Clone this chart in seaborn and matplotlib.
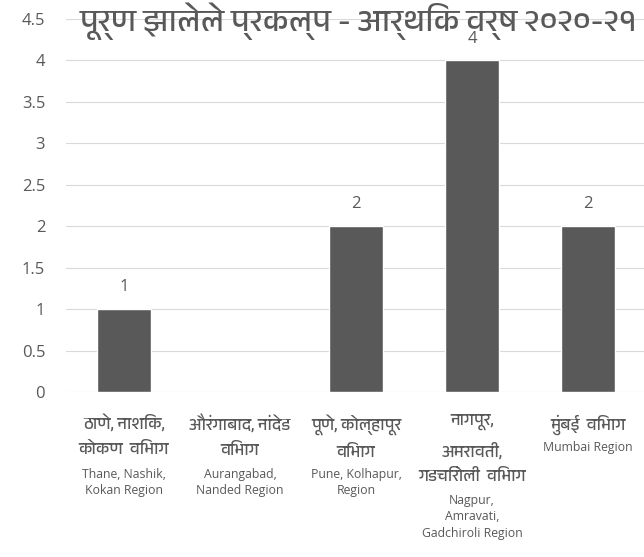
import numpy as np
import pandas as pd
import matplotlib
matplotlib.use('Agg')
import matplotlib.pyplot as plt
import seaborn as sns
from matplotlib import font_manager
from matplotlib.ft2font import FT2Font

# data
regions_mr = ['ठाणे, नाशिक,\nकोकण  विभाग',
              'औरंगाबाद, नांदेड\nविभाग',
              'पूणे, कोल्हापूर\nविभाग',
              'नागपूर,\nअमरावती,\nगडचिरोली  विभाग',
              'मुंबई  विभाग']
regions_en = ['Thane, Nashik,\nKokan Region',
              'Aurangabad,\nNanded Region',
              'Pune, Kolhapur,\nRegion',
              'Nagpur,\nAmravati,\nGadchiroli Region',
              'Mumbai Region']
projects = [1, 0, 2, 4, 2]
title = 'पूर्ण झालेले प्रकल्प - आर्थिक वर्ष २०२०-२१'


def find_family(ch):
    # installed font with the glyph, prefer a devanagari one
    found = []
    for f in font_manager.fontManager.ttflist:
        try:
            if ord(ch) in FT2Font(f.fname).get_charmap():
                found.append(f.name)
        except Exception:
            pass
    if not found:
        return None
    for name in found:
        if 'Devanagari' in name:
            return name
    return found[0]


sns.set_theme(style='white')
latin = 'Open Sans'
deva = find_family('क')
fams = [deva, latin, 'DejaVu Sans'] if deva else [latin, 'DejaVu Sans']
plt.rcParams['font.family'] = fams

grey = '#595959'
df = pd.DataFrame({'region': regions_mr, 'en': regions_en, 'n': projects})

fig = plt.figure(figsize=(6.44, 5.57), dpi=100)
ax = fig.add_axes([0.1025, 0.2962, 0.9006, 0.6697])
sns.barplot(data=df, x='region', y='n', color=grey, saturation=1, width=0.47, ax=ax)

ax.set_ylim(0, 4.5)
ax.set_xlim(-0.5, 4.5)
ax.set_yticks(np.arange(0, 4.51, 0.5))
ax.set_yticklabels(['0', '0.5', '1', '1.5', '2', '2.5', '3', '3.5', '4', '4.5'],
                   fontsize=12, color=grey, family=[latin, 'DejaVu Sans'])
ax.yaxis.grid(True, color='#d9d9d9', linewidth=0.8)
ax.set_axisbelow(True)
for s in ax.spines.values():
    s.set_visible(False)
ax.tick_params(axis='y', length=0, pad=15)
ax.tick_params(axis='x', length=0, pad=16)
ax.set_xlabel('')
ax.set_ylabel('')
ax.set_xticklabels(regions_mr, fontsize=12, color=grey, linespacing=1.8)

# english names under the marathi ones
for i, (mr, en) in enumerate(zip(regions_mr, regions_en)):
    nl = mr.count('\n') + 1
    ax.annotate(en, xy=(i, 0), xycoords=('data', 'axes fraction'),
                xytext=(0, -(16 + nl * 19.2)), textcoords='offset points',
                ha='center', va='top', fontsize=8.8, color=grey,
                linespacing=1.32, family=[latin, 'DejaVu Sans'])

# value labels
for p, v in zip(ax.patches, projects):
    if v > 0:
        ax.annotate(f'{v}', (p.get_x() + p.get_width() / 2, p.get_height()),
                    xytext=(0, 10), textcoords='offset points',
                    ha='center', va='bottom', fontsize=12, color=grey,
                    family=[latin, 'DejaVu Sans'])

t = fig.text(0.557, 0.962, title, ha='center', va='center', fontsize=17,
             fontweight='bold', color=grey)

# size title and tick labels so they span like the original
fig.canvas.draw()
r = fig.canvas.get_renderer()
w = t.get_window_extent(r).width
t.set_fontsize(17 * 558 / w)
for lab in ax.get_xticklabels():
    w = lab.get_window_extent(r).width
    if w > 112:
        lab.set_fontsize(12 * 112 / w)

fig.savefig('out.png', dpi=100)
